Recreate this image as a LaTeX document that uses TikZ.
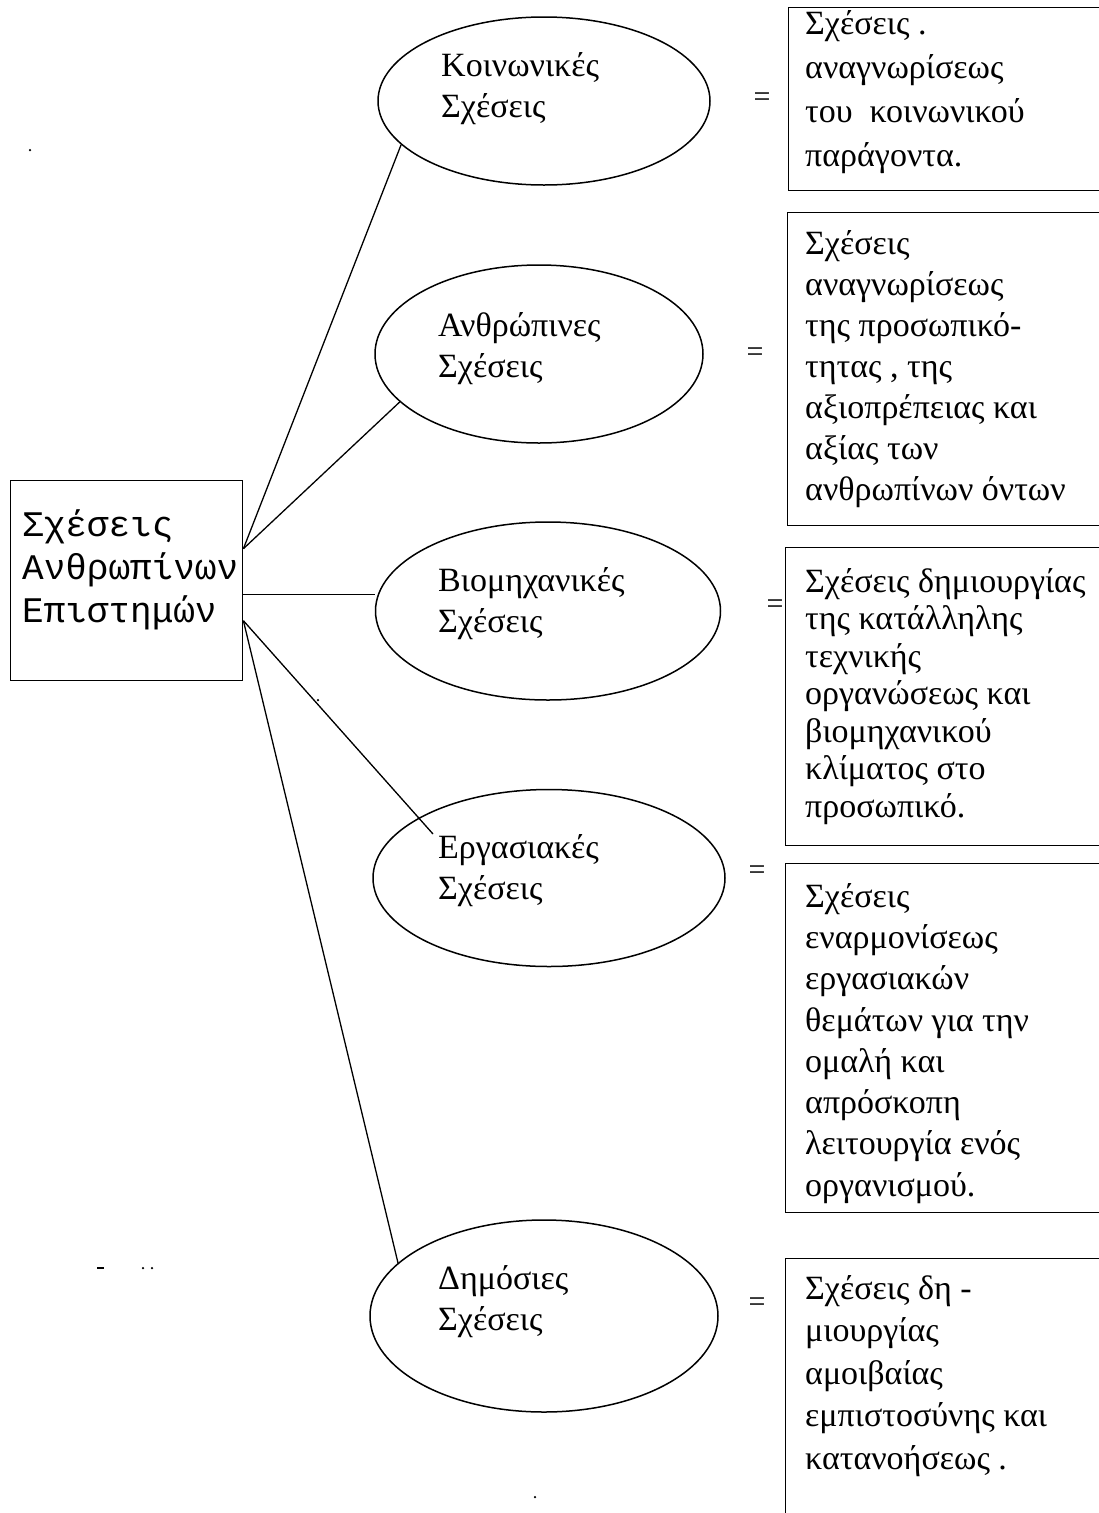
\documentclass[tikz,border=0pt]{standalone}
\usepackage{fontspec}
\setmainfont{Liberation Serif}
\newfontfamily\monogr{Liberation Mono}
\usetikzlibrary{shapes.geometric}
\begin{document}
\begin{tikzpicture}[x=1pt,y=-1pt,
  oval/.style={ellipse,draw,line width=1.5pt,inner sep=0pt},
  rbox/.style={draw,line width=1.4pt,inner sep=0pt,anchor=north west},
  otext/.style={anchor=north west,align=left,inner sep=0pt,font=\fontsize{34}{41}\selectfont},
  btext/.style={anchor=north west,align=left,inner sep=0pt},
  conn/.style={line width=1.3pt},
  eqs/.style={inner sep=0pt,font=\fontsize{30}{30}\selectfont},
  speck/.style={fill=black,inner sep=0pt,minimum size=2.5pt,circle}]
\useasboundingbox (0,0) rectangle (1098,1513);

% left box
\node[rbox,minimum width=232pt,minimum height=200pt] (L) at (10,480) {};
\node[btext,font=\monogr\fontsize{36}{43}\selectfont] (Lt) at (22,509)
  {Σχέσεις\\Ανθρωπίνων\\Επιστημών};

% ellipses
\node[oval,minimum width=332pt,minimum height=168pt] (e1) at (544,101) {};
\node[oval,minimum width=328pt,minimum height=178pt] (e2) at (539,354) {};
\node[oval,minimum width=345pt,minimum height=178pt] (e3) at (548,611) {};
\node[oval,minimum width=352pt,minimum height=177pt] (e4) at (549,878) {};
\node[oval,minimum width=348pt,minimum height=192pt] (e5) at (544,1316) {};

\node[otext] (t1) at (441,52) {Κοινωνικές\\Σχέσεις};
\node[otext] (t2) at (438,312) {Ανθρώπινες\\Σχέσεις};
\node[otext] (t3) at (438,567) {Βιομηχανικές\\Σχέσεις};
\node[otext] (t4) at (438,834) {Εργασιακές\\Σχέσεις};
\node[otext] (t5) at (438,1265) {Δημόσιες\\Σχέσεις};

% connectors
\coordinate (pu) at ([yshift=32pt]L.east);
\coordinate (pm) at ([yshift=-14pt]L.east);
\coordinate (pd) at ([yshift=-40pt]L.east);
\draw[conn] (pu) -- (e1.197);
\draw[conn] (pu) -- (e2.199);
\draw[conn] (pm) -- (pm -| e3.west);
\draw[conn] (pd) -- ([xshift=-5pt,yshift=0pt]t4.north west);
\draw[conn] (pd) -- (e5.160);

% equals signs
\node[eqs] (q1) at (762,100) {=};
\node[eqs] (q2) at (755,355) {=};
\node[eqs] (q3) at (775,607) {=};
\node[eqs] (q4) at (757,873) {=};
\node[eqs] (q5) at (757,1305) {=};

% right boxes
\node[rbox,minimum width=330pt,minimum height=183pt] (b1) at (788,7) {};
\node[rbox,minimum width=330pt,minimum height=313pt] (b2) at (787,212) {};
\node[rbox,minimum width=330pt,minimum height=298pt] (b3) at (785,547) {};
\node[rbox,minimum width=330pt,minimum height=349pt] (b4) at (785,863) {};
\node[rbox,minimum width=330pt,minimum height=290pt] (b5) at (785,1258) {};

\node[btext,font=\fontsize{34}{44}\selectfont] (r1) at (805,10)
  {Σχέσεις .\\αναγνωρίσεως\\του\ \ κοινωνικού\\παράγοντα.};
\node[btext,font=\fontsize{34}{41}\selectfont] (r2) at (805,230)
  {Σχέσεις\\αναγνωρίσεως\\της προσωπικό-\\τητας , της\\αξιοπρέπειας και\\αξίας των\\ανθρωπίνων όντων};
\node[btext,font=\fontsize{34}{37.5}\selectfont] (r3) at (805,568)
  {Σχέσεις δημιουργίας\\της κατάλληλης\\τεχνικής\\οργανώσεως και\\βιομηχανικού\\κλίματος στο\\προσωπικό.};
\node[btext,font=\fontsize{34}{41.3}\selectfont] (r4) at (805,883)
  {Σχέσεις\\εναρμονίσεως\\εργασιακών\\θεμάτων για την\\ομαλή και\\απρόσκοπη\\λειτουργία ενός\\οργανισμού.};
\node[btext,font=\fontsize{34}{42.5}\selectfont] (r5) at (805,1275)
  {Σχέσεις δη -\\μιουργίας\\αμοιβαίας\\εμπιστοσύνης και\\κατανοήσεως .};

% specks of the scan
\node[speck] (s1) at (30,150) {};
\node[speck] (s2) at (318,700) {};
\node[speck] (s3) at (535,1497) {};
\node[speck] (s4) at (143,1268) {};
\node[speck] (s5) at (152,1268) {};
\node[fill=black,inner sep=0pt,minimum width=7pt,minimum height=2pt] (s6) at (100,1268) {};
\end{tikzpicture}
\end{document}
